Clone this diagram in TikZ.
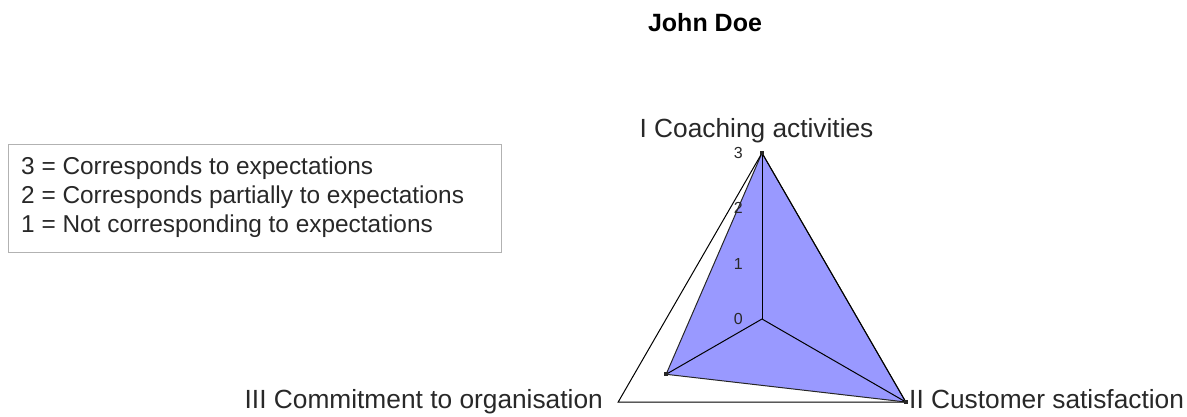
\documentclass[tikz,border=0pt]{standalone}
\usepackage{fontspec}
\setmainfont{Liberation Sans}
\usetikzlibrary{positioning}
\definecolor{serfill}{RGB}{153,153,255}
\definecolor{txtgray}{RGB}{40,40,40}

\begin{document}
\begin{tikzpicture}[x=1pt,y=-1pt,
			axislab/.style={
				font=\fontsize{26.3}{30}\selectfont,
				text=txtgray,
				inner sep=0pt
			},
			legline/.style={
				font=\fontsize{24.4}{28}\selectfont,
				text=txtgray,
				inner sep=0pt,
				anchor=base west
			},
			ticklab/.style={
				font=\fontsize{16}{18}\selectfont,
				text=txtgray,
				inner sep=0pt,
				anchor=east
			},
			series/.style={
				fill=serfill,
				draw=black!85,
				line width=1pt
			},
			gridline/.style={
				draw=black,
				line width=1pt
			},
			datamark/.style={
				fill=black!85
			}
			]
			\useasboundingbox (0,0) rectangle (1187,417);

			% chart centre, outer corners and the one point inside
			\coordinate (c) at (762,319);
			\coordinate (v1) at (762,153);
			\coordinate (v2) at (905.8,402);
			\coordinate (v3) at (618.2,402);
			\coordinate (d3) at (666.1,374.3);

			\node[font=\bfseries\fontsize{25}{30}\selectfont,inner sep=0pt,anchor=base] 
			  (title) at (705,32) {John Doe};

			\path[series] (v1) -- (v2) -- (d3) -- cycle;
			\draw[gridline] (v1) -- (v2) -- (v3) -- cycle;
			\draw[gridline] (c) -- (v1);
			\draw[gridline] (c) -- (v2);
			\draw[gridline] (c) -- (d3);

			\foreach \p in {v1,v2,d3}
				\fill[datamark] ([shift={(-2,-2)}]\p) rectangle ([shift={(2,2)}]\p);

			\foreach \v in {0,...,3}
				\node[ticklab] (tick\v) at (743,{319-55.33*\v}) {\v};

			\node[axislab,anchor=base] 
			  (lab1) at (756.5,138) {I Coaching activities};
			\node[axislab,anchor=base west] 
			  (lab2) at (909,408) {II Customer satisfaction};
			\node[axislab,anchor=base east] 
			  (lab3) at (603,408) {III Commitment to organisation};

			% legend box
			\node[draw=black!30,line width=1.2pt,minimum width=493pt,minimum height=108pt,inner sep=0pt,anchor=north west] 
			  (legend) at (8,144) {};
			\node[legline] (leg3) at (21,175) {3 = Corresponds to expectations};
			\node[legline] (leg2) at (21,204) {2 = Corresponds partially to expectations};
			\node[legline] (leg1) at (21,233) {1 = Not corresponding to expectations};
        \end{tikzpicture}
\end{document}
